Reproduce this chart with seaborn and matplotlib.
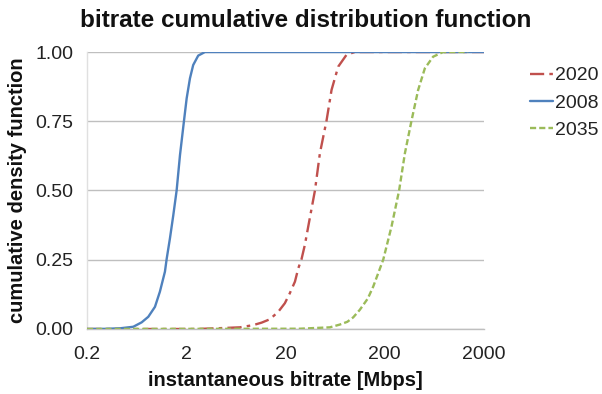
import matplotlib
matplotlib.use("Agg")
import matplotlib.pyplot as plt
import seaborn as sns
import pandas as pd

# ---- data ----
x_2008 = [0.2, 0.3, 0.43, 0.585, 0.711, 0.829, 0.968, 1.086, 1.22, 1.27, 1.37, 1.48, 1.60, 1.73, 1.90,
          2.02, 2.18, 2.35, 2.64, 3.09, 20, 200, 2000]
y_2008 = [0.0, 0.0005, 0.0025, 0.008, 0.024, 0.044, 0.08, 0.135, 0.207, 0.253, 0.327, 0.41, 0.50, 0.628, 0.753,
          0.833, 0.905, 0.953, 0.987, 1.0, 1.0, 1.0, 1.0]

x_2020 = [0.2, 2.55, 4.37, 6.95, 9.46, 11.5, 13.9, 16.9, 19.7, 22.1, 24.9, 26.9, 29.0, 31.4, 33.9,
          39.6, 44.4, 51.8, 58.2, 67.9, 82.4, 100, 2000]
y_2020 = [0.0, 0.0, 0.003, 0.006, 0.014, 0.023, 0.035, 0.062, 0.093, 0.129, 0.171, 0.219, 0.252, 0.305, 0.37,
          0.50, 0.634, 0.752, 0.863, 0.947, 0.99, 1.0, 1.0]

x_2035 = [0.2, 27.9, 56.0, 70.6, 84.0, 96.2, 112, 135, 153, 193, 234, 279, 319, 372, 434, 507, 614, 775, 1384]
y_2035 = [0.0, 0.001, 0.006, 0.016, 0.026, 0.042, 0.069, 0.11, 0.153, 0.25, 0.37, 0.50, 0.634, 0.752, 0.863,
          0.941, 0.983, 1.0, 1.0]

series_names = ["2020", "2008", "2035"]
x_ticks = [0.2, 2, 20, 200, 2000]
x_tick_labels = ["0.2", "2", "20", "200", "2000"]
y_ticks = [0.0, 0.25, 0.5, 0.75, 1.0]
y_tick_labels = ["0.00", "0.25", "0.50", "0.75", "1.00"]

sns.set_theme(style="white")
plt.rcParams["font.family"] = ["Liberation Sans", "DejaVu Sans"]

fig = plt.figure(figsize=(6.02, 3.94), dpi=100)
ax = fig.add_axes([0.1445, 0.165, 0.6595, 0.703])

styles = {
    "2020": dict(color="#C0504D", dashes=(6, 2.2, 1.5, 2.2), lw=1.7),
    "2008": dict(color="#4F81BD", dashes=None, lw=1.7),
    "2035": dict(color="#9BBB59", dashes=(2.6, 1.3), lw=1.7),
}
data = {"2020": (x_2020, y_2020), "2008": (x_2008, y_2008), "2035": (x_2035, y_2035)}

for i, name in enumerate(series_names):
    xs, ys = data[name]
    df = pd.DataFrame({"x": xs, "y": ys})
    st = styles[name]
    sns.lineplot(data=df, x="x", y="y", ax=ax, color=st["color"], lw=st["lw"],
                 label=name, zorder=3 + i)
    line = ax.get_lines()[-1]
    line.set_solid_joinstyle("round")
    line.set_dash_joinstyle("round")
    if st["dashes"] is not None:
        line.set_dashes(st["dashes"])

ax.set_xscale("log")
ax.set_xlim(0.2, 2000)
ax.set_ylim(0, 1.0)
ax.set_xticks(x_ticks)
ax.set_xticklabels(x_tick_labels)
ax.minorticks_off()
ax.set_yticks(y_ticks)
ax.set_yticklabels(y_tick_labels)
ax.tick_params(axis="y", length=0, labelsize=14, labelcolor="#222222", pad=10)
ax.tick_params(axis="x", length=0, labelsize=14, labelcolor="#222222", pad=12)

ax.yaxis.grid(True, color="#BFBFBF", lw=1)
ax.xaxis.grid(False)
ax.set_axisbelow(True)
for s in ["top", "right"]:
    ax.spines[s].set_visible(False)
ax.spines["left"].set_color("#E0E0E0")
ax.spines["left"].set_linewidth(1)
ax.spines["bottom"].set_color("#BFBFBF")
ax.spines["bottom"].set_linewidth(1)

ax.set_xlabel("instantaneous bitrate [Mbps]", fontsize=14.5, fontweight="bold", color="#111111", labelpad=6)
ax.set_ylabel("cumulative density function", fontsize=14.5, fontweight="bold", color="#111111", labelpad=6)
fig.suptitle("bitrate cumulative distribution function", x=0.507, y=0.978, fontsize=17.5,
             fontweight="bold", color="#111111")

leg = ax.legend(loc="upper left", bbox_to_anchor=(1.095, 0.975), frameon=False, fontsize=14,
                handlelength=1.2, handletextpad=0.1, labelspacing=0.5, borderaxespad=0)
for t in leg.get_texts():
    t.set_color("#222222")

fig.savefig("out.png", dpi=100)
